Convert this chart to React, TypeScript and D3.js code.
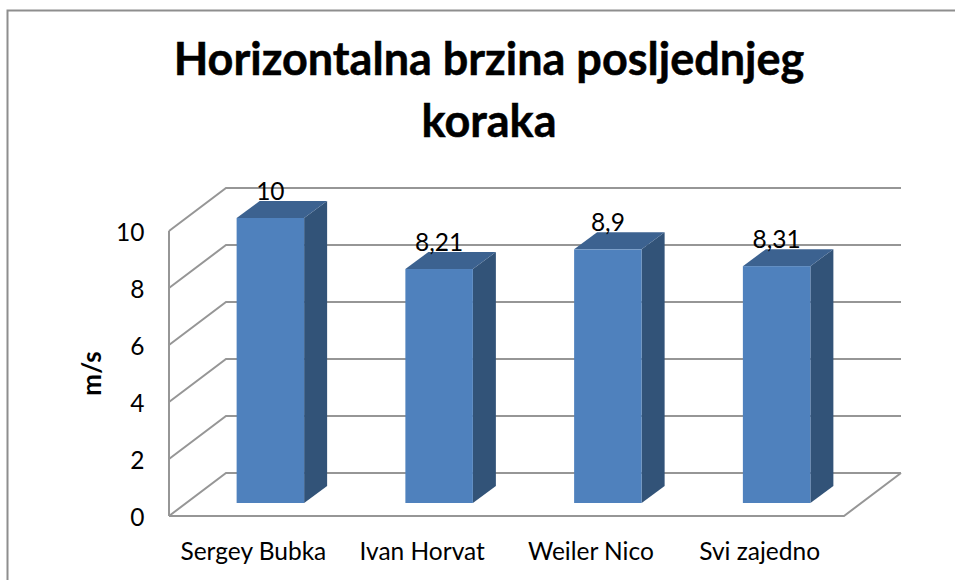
import React from "react";
import * as d3 from "d3";

const categories = ["Sergey Bubka", "Ivan Horvat", "Weiler Nico", "Svi zajedno"];
const values = [10, 8.21, 8.9, 8.31];
const valueLabels = ["10", "8,21", "8,9", "8,31"];
const yTicks = [0, 2, 4, 6, 8, 10];
const titleLines = ["Horizontalna brzina posljednjeg", "koraka"];
const yAxisTitle = "m/s";

const W = 955, H = 580;
const FONT = "Lato, Carlito, Calibri, sans-serif";
const DX = 57, DY = -43;
const BAR_DX = 23, BAR_DY = -17;
const FLOOR_OFFSET_Y = -13;
const FS = 24.5;

export default function App() {
  const y = d3.scaleLinear().domain([0, 10]).range([516, 231]);
  const xCat = d3.scaleBand<string>().domain(categories).range([169, 844]);
  const x = d3.scaleBand<string>().domain(categories).range([186, 861]).paddingInner(0.6).paddingOuter(0.3);
  const grid = "#969696";
  return (
    <svg width={W} height={H} viewBox={`0 0 ${W} ${H}`}
      style={{ position: "fixed", left: 0, top: 0, background: "#fff" }} fontFamily={FONT}>
      <path d="M7.5 580V10.5H955" fill="none" stroke="#8e8e8e" strokeWidth={2} />
      {titleLines.map((t, i) => (
        <text key={t} x={489} y={75 + i * 61.5} textAnchor="middle" fontSize={45} fontWeight={700} stroke="#000" strokeWidth={0.5} fill="#000">{t}</text>
      ))}
      <g fill="none" stroke={grid} strokeWidth={2}>
        <path d={`M169 ${y(10)}V${y(0)}`} />
        {yTicks.map(t => (
          <path key={t} d={`M169 ${y(t)}L${169 + DX} ${y(t) + DY}H${844 + DX}`} />
        ))}
        <path d={`M169 ${y(0)}H844L${844 + DX} ${y(0) + DY}`} />
      </g>
      {yTicks.map(t => (
        <text key={t} x={144.5} y={y(t) + 9.5} textAnchor="end" fontSize={FS} fill="#000">{t}</text>
      ))}
      <text transform={`translate(101 ${373.5}) rotate(-90)`} textAnchor="middle" fontSize={26} fontWeight={700} fill="#000">{yAxisTitle}</text>
      {categories.map((c, i) => {
        const x0 = x(c)!, x1 = x0 + x.bandwidth();
        const b = y(0) + FLOOR_OFFSET_Y, t = y(values[i]) + FLOOR_OFFSET_Y;
        return (
          <g key={c}>
            <path d={`M${x1} ${b}L${x1 + BAR_DX} ${b + BAR_DY}V${t + BAR_DY}L${x1} ${t}Z`} fill="#325378" />
            <path d={`M${x0} ${t}L${x0 + BAR_DX} ${t + BAR_DY}H${x1 + BAR_DX}L${x1} ${t}Z`} fill="#3c6290" />
            <rect x={x0} y={t} width={x.bandwidth()} height={b - t} fill="#4f81bd" />
            <text x={(x0 + x1) / 2} y={t - 18} textAnchor="middle" fontSize={FS} fill="#000">{valueLabels[i]}</text>
            <text x={xCat(c)! + xCat.bandwidth() / 2} y={559.5} textAnchor="middle" fontSize={FS} fill="#000">{c}</text>
          </g>
        );
      })}
    </svg>
  );
}
